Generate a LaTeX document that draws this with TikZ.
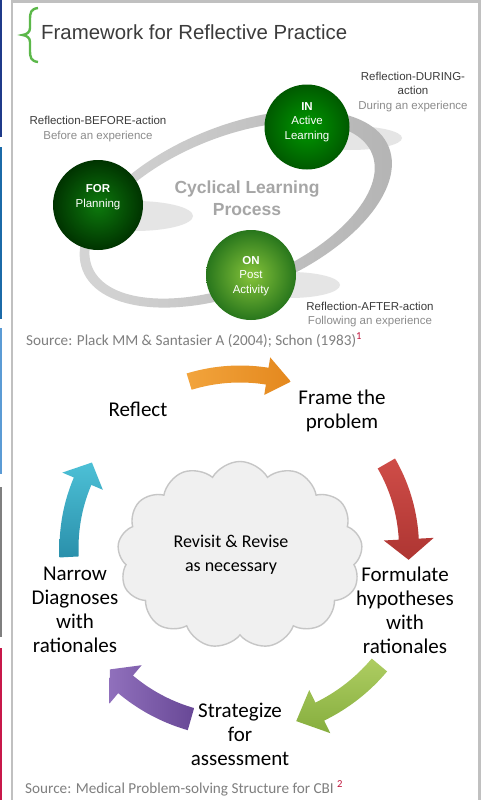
\documentclass[tikz,border=0pt]{standalone}
\usepackage{fontspec}
\setmainfont{Liberation Sans}
\newfontfamily\calibri{Carlito}
\usetikzlibrary{shapes.symbols}

\definecolor{stripnavy}{HTML}{1F3A8A}
\definecolor{stripblue}{HTML}{1B6AA8}
\definecolor{stripsky}{HTML}{5B9BD5}
\definecolor{stripgray}{HTML}{7F7F7F}
\definecolor{stripred}{HTML}{C8184A}
\definecolor{framegray}{HTML}{C0C0C0}
\definecolor{bracegreen}{HTML}{5CB84A}
\definecolor{titlegray}{HTML}{3C3C3C}
\definecolor{hintgray}{HTML}{8C8C8C}
\definecolor{ringlight}{HTML}{D6D6D6}
\definecolor{ringdark}{HTML}{B3B3B3}
\definecolor{shadowgray}{HTML}{E5E5E5}
\definecolor{processgray}{HTML}{A6A6A6}
\definecolor{sourcegray}{HTML}{7F7F7F}
\definecolor{notered}{HTML}{C0143C}
\definecolor{cloudfill}{HTML}{F0F0F0}
\definecolor{cloudline}{HTML}{C6C6C6}
\definecolor{orangeA}{HTML}{F2A43C}
\definecolor{orangeB}{HTML}{E4881E}
\definecolor{redA}{HTML}{CF4D48}
\definecolor{redB}{HTML}{AE3532}
\definecolor{greenA}{HTML}{AECD62}
\definecolor{greenB}{HTML}{86AE3E}
\definecolor{purpleA}{HTML}{9070BC}
\definecolor{purpleB}{HTML}{684896}
\definecolor{tealA}{HTML}{4DC0D6}
\definecolor{tealB}{HTML}{2A90AB}

% bent block arrow on a circle round the current origin:
% radius, start angle, end of shaft, tip angle, shaft half width, head half width, shading
\newcommand\cycarrow[7]{%
  \shade[#7] plot[domain=#2:#3,samples=30] (\x:{#1+#5})
    -- (#3:{#1+#6}) -- (#4:#1) -- (#3:{#1-#6})
    -- plot[domain=#3:#2,samples=30] (\x:{#1-#5}) -- cycle;}

\begin{document}
\begin{tikzpicture}[x=1pt,y=-1pt]
\tikzstyle{lbl}=[font=\fontsize{11.5}{14.5}\selectfont,text=titlegray,align=center,inner sep=0pt]
\tikzstyle{orb}=[circle,minimum size=90,inner sep=0pt]
\tikzstyle{orbtxt}=[font=\fontsize{11.5}{14.5}\selectfont,text=white,align=center,inner sep=0pt]
\tikzstyle{stage}=[font=\calibri\fontsize{21}{24}\selectfont,align=center,inner sep=0pt]
\tikzstyle{srcline}=[font=\calibri\fontsize{15.2}{17}\selectfont,text=sourcegray,anchor=base west,inner sep=0pt]
\useasboundingbox (0,0) rectangle (481,800);
\fill[white] (0,0) rectangle (481,800);

% coloured strips on the left edge
\fill[stripnavy] (0,0) rectangle (2.2,137);
\fill[stripblue] (0,147) rectangle (2.2,319);
\fill[stripsky] (0,328) rectangle (2.2,474);
\fill[stripgray] (0,487) rectangle (2.2,637);
\fill[stripred] (0,648) rectangle (2.2,800);
\draw[framegray,line width=2.5] (12,800) -- (12,1.5) -- (479.5,1.5) -- (479.5,800);

% heading
\draw[bracegreen,line width=2.4] (38,8) .. controls (31,9) and (30,12) .. (30,20) -- (30,28)
  .. controls (30,32) and (27,34.5) .. (22.5,35) .. controls (27,35.5) and (30,38) .. (30,42)
  -- (30,50) .. controls (30,58) and (31,61) .. (38,62);
\node[font=\fontsize{20.4}{24}\selectfont,text=titlegray,anchor=base west,inner sep=0pt] (title) at (41,40) {Framework for Reflective Practice};

% shadows and the cycle ring
\fill[shadowgray] (135,216) ellipse [x radius=58, y radius=15];
\fill[shadowgray] (350,138) ellipse [x radius=52, y radius=12];
\fill[shadowgray] (290,285) ellipse [x radius=50, y radius=13];
\begin{scope}[shift={(233,210)},rotate=22]
\shade[even odd rule,left color=ringlight,right color=ringdark]
  (3,0) ellipse [x radius=165, y radius=83] (-1,0) ellipse [x radius=151, y radius=73];
\end{scope}
\node[font=\bfseries\fontsize{17.5}{22}\selectfont,text=processgray,align=center,inner sep=0pt] (process) at (247,198) {Cyclical Learning\\Process};

% the three stages
\node[orb,inner color=green!45!black!95,outer color=green!20!black] (for) at (98,205) {};
\node[orb,minimum size=85,inner color=green!60!black,outer color=green!35!black] (in) at (307,127) {};
\node[orb,inner color={rgb,255:red,134;green,196;blue,58},outer color={rgb,255:red,40;green,118;blue,28}] (on) at (251,275) {};
\node[orbtxt] (fortext) at (98,197) {\textbf{FOR}\\Planning};
\node[orbtxt] (intext) at (307,122) {\textbf{IN}\\Active\\Learning};
\node[orbtxt] (ontext) at (251,276) {\textbf{ON}\\Post\\Activity};

\node[lbl] (before) at (98,129) {Reflection-BEFORE-action\\\textcolor{hintgray}{Before an experience}};
\node[lbl] (during) at (413,92) {Reflection-DURING-\\action\\\textcolor{hintgray}{During an experience}};
\node[lbl] (after) at (370,314.5) {Reflection-AFTER-action\\\textcolor{hintgray}{Following an experience}};

\node[srcline] (source1) at (26,345) {Source: Plack MM \& Santasier A (2004); Schon (1983)\textsuperscript{\textcolor{notered}{1}}};

% problem-solving cycle
\begin{scope}[shift={(240,548)}]
\cycarrow{174}{-107}{-81}{-73}{8.5}{19}{left color=orangeA,right color=orangeB}
\cycarrow{169}{-30}{-3}{4}{10}{25}{top color=redA,bottom color=redB}
\cycarrow{182}{40}{64}{72}{10}{24}{top color=greenA,bottom color=greenB}
\cycarrow{178}{106}{130}{137}{11.5}{25}{left color=purpleA,right color=purpleB}
\cycarrow{171}{177}{203}{210}{9.5}{22}{top color=tealA,bottom color=tealB}
\end{scope}

\node[cloud,cloud puffs=13,cloud puff arc=120,aspect=1.3,draw=cloudline,fill=cloudfill,line width=1.4,minimum width=245,minimum height=187] (cloud) at (240,555) {};
\node[stage,font=\calibri\fontsize{18}{24}\selectfont] (revise) at (231,555) {Revisit \& Revise\\as necessary};

\node[stage] (reflect) at (138,409) {Reflect};
\node[stage] (frame) at (342,411) {Frame the\\problem};
\node[stage] (formulate) at (405,610) {Formulate\\hypotheses\\with\\rationales};
\node[stage] (strategize) at (240,734) {Strategize\\for\\assessment};
\node[stage] (narrow) at (75,610) {Narrow\\Diagnoses\\with\\rationales};

\node[srcline] (source2) at (25,793) {Source: Medical Problem-solving Structure for CBI \textsuperscript{\textcolor{notered}{2}}};
\end{tikzpicture}
\end{document}
